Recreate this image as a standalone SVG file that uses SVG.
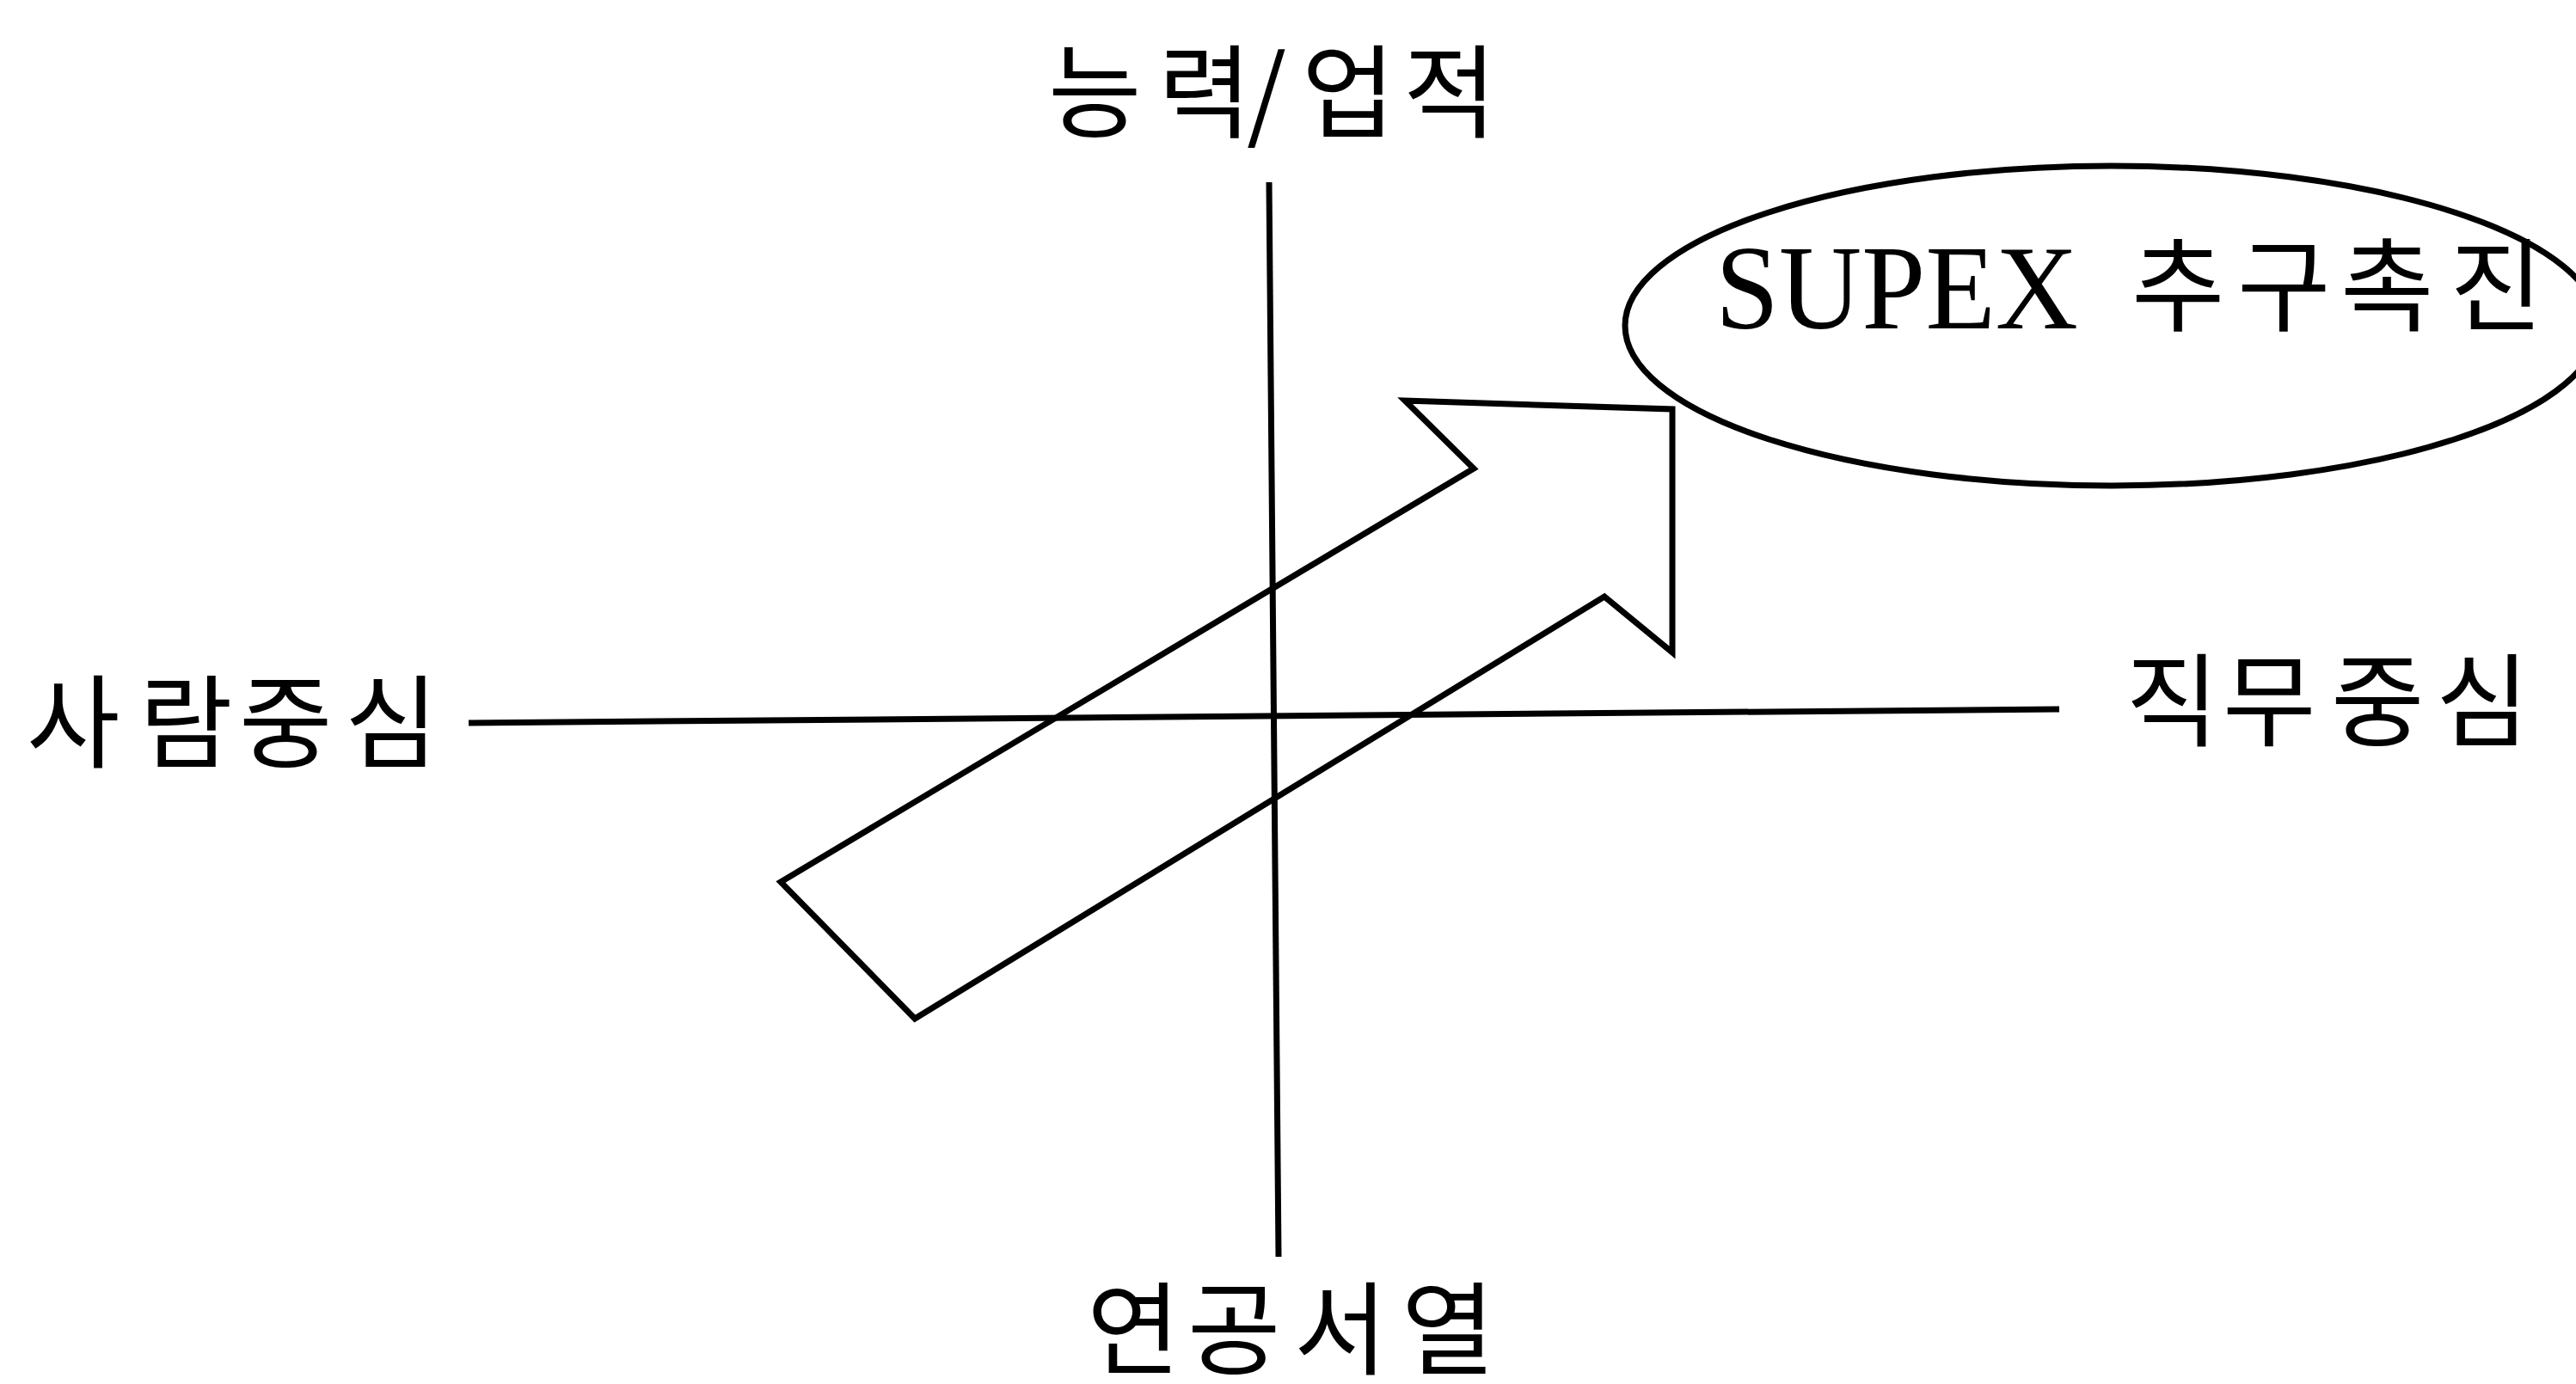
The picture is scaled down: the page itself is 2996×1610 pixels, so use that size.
<svg xmlns="http://www.w3.org/2000/svg" width="2996" height="1610" viewBox="0 0 2996 1610">
<style>
.ln{stroke:#000;stroke-width:7;fill:none;stroke-linejoin:miter}
.ko{font-family:"Noto Sans CJK KR","Noto Sans CJK SC",sans-serif;fill:#000;font-size:118px}
.en{font-family:"Liberation Serif","Times New Roman",serif;font-size:140px;fill:#000}
</style>
<rect width="2996" height="1610" fill="#fff"/>
<g id="axes">
<line class="ln" x1="1476" y1="212" x2="1487" y2="1462"/>
<line class="ln" x1="545" y1="841" x2="2395" y2="825"/>
</g>
<g id="label-top"><text class="ko" x="1219 1347 1450 1514 1632" y="151">능력/업적</text></g>
<g id="label-left"><text class="ko" x="31 162 278 401" y="884">사람중심</text></g>
<g id="label-right"><text class="ko" x="2472 2585 2711 2833" y="859">직무중심</text></g>
<g id="label-bottom"><text class="ko" x="1264 1381 1505 1630" y="1590">연공서열</text></g>
<g id="goal">
<ellipse class="ln" cx="2456" cy="379" rx="566" ry="186"/>
<text class="en" x="1995" y="382" textLength="422" lengthAdjust="spacingAndGlyphs">SUPEX</text>
<text class="ko" font-size="120" x="2479 2602 2722 2849" y="376">추구촉진</text>
</g>
<g id="arrow">
<polygon class="ln" points="908,1026 1714,545 1634,466 1945,476 1945,759 1866,694 1064,1185"/>
</g>
</svg>
